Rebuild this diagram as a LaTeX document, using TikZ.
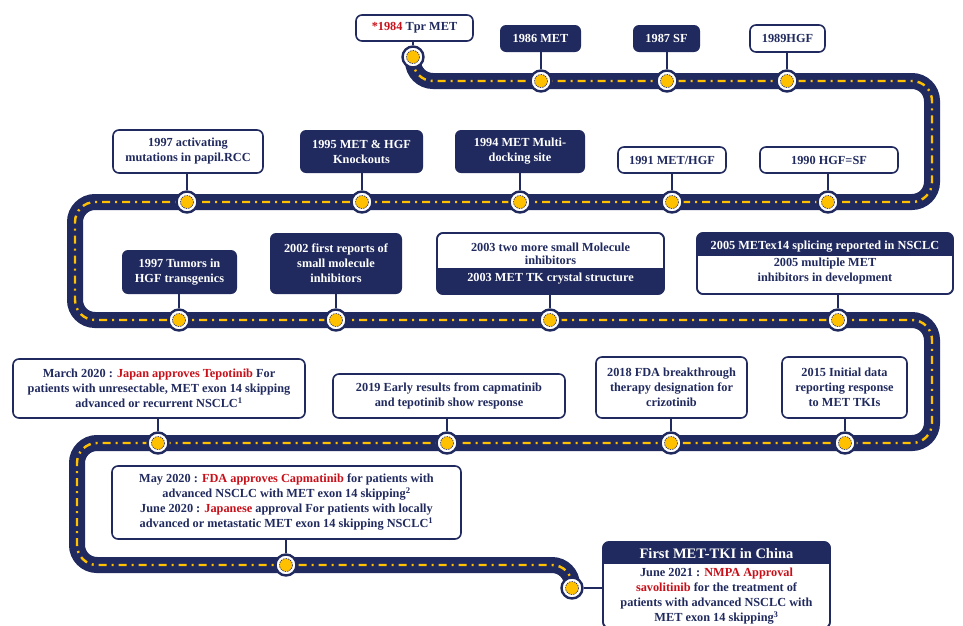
\documentclass[tikz,border=0pt]{standalone}
\usepackage{fontspec}
\setmainfont{Liberation Serif}
\definecolor{navy}{RGB}{32,42,94}
\definecolor{roadyellow}{RGB}{255,192,0}
\definecolor{hired}{RGB}{200,16,26}
\begin{document}
\begin{tikzpicture}[x=1pt,y=-1pt,
  font=\fontsize{12.3}{15}\selectfont\bfseries,
  wbox/.style={draw=navy, line width=1.6pt, fill=white, rounded corners=6pt, align=center, text=navy, inner sep=2pt, outer sep=0pt},
  nbox/.style={fill=navy, rounded corners=6pt, align=center, text=white, inner sep=2pt, outer sep=0pt},
  btext/.style={align=center, inner sep=0pt},
  milestone/.style={circle, fill=white, draw=navy, line width=2.4pt, minimum size=21pt, inner sep=0pt,
    path picture={\fill[roadyellow] (path picture bounding box.center) circle (6.5);
                  \draw[navy, line width=0.6pt, dash pattern=on 1.5pt off 1pt] (path picture bounding box.center) circle (6.5);}},
  link/.style={draw=navy, line width=1.5pt},
  road/.style={draw=navy, line width=16pt, rounded corners=20pt},
  lane/.style={draw=roadyellow, line width=2.4pt, dash pattern=on 8pt off 5pt on 2pt off 5pt, rounded corners=20pt}]
\useasboundingbox (0,0) rectangle (963,625);

% road
\draw[road] (413,57) -- (413,81) -- (932,81) -- (932,202) -- (75,202) -- (75,320) -- (932,320) -- (932,443) -- (77,443) -- (77,565) -- (572,565) -- (572,588);
\draw[lane] (413,57) -- (413,81) -- (932,81) -- (932,202) -- (75,202) -- (75,320) -- (932,320) -- (932,443) -- (77,443) -- (77,565) -- (572,565) -- (572,588);

% milestones
\node[milestone] (c1984) at (413,57) {};
\node[milestone] (c1986) at (541,81) {};
\node[milestone] (c1987) at (667,81) {};
\node[milestone] (c1989) at (787,81) {};
\node[milestone] (c1997a) at (187,202) {};
\node[milestone] (c1995) at (362,202) {};
\node[milestone] (c1994) at (520,202) {};
\node[milestone] (c1991) at (672,202) {};
\node[milestone] (c1990) at (828,202) {};
\node[milestone] (c1997t) at (179,320) {};
\node[milestone] (c2002) at (336,320) {};
\node[milestone] (c2003) at (550,320) {};
\node[milestone] (c2005) at (838,320) {};
\node[milestone] (cMar) at (158,443) {};
\node[milestone] (c2019) at (447,443) {};
\node[milestone] (c2018) at (671,443) {};
\node[milestone] (c2015) at (845,443) {};
\node[milestone] (cMay) at (286,565) {};
\node[milestone] (cChina) at (572,588) {};

% boxes
\node[wbox, minimum width=117pt, minimum height=26pt] (b1984) at (414.5,28) {\textcolor{hired}{*1984} Tpr MET};
\node[nbox, minimum width=81pt, minimum height=27pt] (b1986) at (540.5,38.5) {1986 MET};
\node[nbox, minimum width=67pt, minimum height=27pt] (b1987) at (666.5,38.5) {1987 SF};
\node[wbox, minimum width=75pt, minimum height=27pt] (b1989) at (787.5,38.5) {1989HGF};

\node[wbox, minimum width=150pt, minimum height=43pt] (b1997a) at (188,151.5) {1997 activating\\mutations in papil.RCC};
\node[nbox, minimum width=123pt, minimum height=43pt] (b1995) at (361.5,151.5) {1995 MET \& HGF\\Knockouts};
\node[nbox, minimum width=130pt, minimum height=43pt] (b1994) at (520,151.5) {1994 MET Multi-\\docking site};
\node[wbox, minimum width=108pt, minimum height=26pt] (b1991) at (672,160) {1991 MET/HGF};
\node[wbox, minimum width=138pt, minimum height=26pt] (b1990) at (829,160) {1990 HGF=SF};

\node[nbox, minimum width=115pt, minimum height=44pt] (b1997t) at (179.5,272) {1997 Tumors in\\HGF transgenics};
\node[nbox, minimum width=132pt, minimum height=61pt] (b2002) at (336,263.5) {2002 first reports of\\small molecule\\inhibitors};

\node[wbox, minimum width=227pt, minimum height=61pt] (b2003) at (550.5,263.5) {};
\begin{scope}
  \clip[rounded corners=6pt] (b2003.south west) rectangle (b2003.north east);
  \fill[navy] (437,268) rectangle (664,300);
\end{scope}
\draw[navy, line width=1.6pt, rounded corners=6pt] (b2003.south west) rectangle (b2003.north east);
\node[btext, text=navy, font=\fontsize{12.3}{13}\selectfont\bfseries] (t2003a) at (550.5,253.5) {2003 two more small Molecule\\inhibitors};
\node[btext, text=white] (t2003b) at (550.5,279) {2003 MET TK crystal structure};

\node[wbox, minimum width=256pt, minimum height=61pt] (b2005) at (825,263.5) {};
\begin{scope}
  \clip[rounded corners=6pt] (b2005.south west) rectangle (b2005.north east);
  \fill[navy] (690,228) rectangle (960,256);
\end{scope}
\draw[navy, line width=1.6pt, rounded corners=6pt] (b2005.south west) rectangle (b2005.north east);
\node[btext, text=white] (t2005a) at (825,247) {2005 METex14 splicing reported in NSCLC};
\node[btext, text=navy] (t2005b) at (825,271) {2005 multiple MET\\inhibitors in development};

\node[wbox, minimum width=292pt, minimum height=59pt] (bMar) at (159,388.5) {March 2020 : \textcolor{hired}{Japan approves Tepotinib} For\\patients with unresectable, MET exon 14 skipping\\advanced or recurrent NSCLC\textsuperscript{1}};
\node[wbox, minimum width=232pt, minimum height=44pt] (b2019) at (449,396) {2019 Early results from capmatinib\\and tepotinib show response};
\node[wbox, minimum width=151pt, minimum height=61pt] (b2018) at (671.5,387.5) {2018 FDA breakthrough\\therapy designation for\\crizotinib};
\node[wbox, minimum width=125pt, minimum height=61pt] (b2015) at (844.5,387.5) {2015 Initial data\\reporting response\\to MET TKIs};

\node[wbox, minimum width=349pt, minimum height=73pt] (bMay) at (286.5,502.5) {May 2020 : \textcolor{hired}{FDA approves Capmatinib} for patients with\\advanced NSCLC with MET exon 14 skipping\textsuperscript{2}\\June 2020 : \textcolor{hired}{Japanese} approval For patients with locally\\advanced or metastatic MET exon 14 skipping NSCLC\textsuperscript{1}};

\node[wbox, minimum width=227pt, minimum height=86pt] (bChina) at (716.5,585) {};
\begin{scope}
  \clip[rounded corners=6pt] (bChina.south west) rectangle (bChina.north east);
  \fill[navy] (600,538) rectangle (835,564);
\end{scope}
\draw[navy, line width=1.6pt, rounded corners=6pt] (bChina.south west) rectangle (bChina.north east);
\node[btext, text=white, font=\fontsize{14.5}{16}\selectfont\bfseries] (tChinaA) at (716.5,554) {First MET-TKI in China};
\node[btext, text=navy] (tChinaB) at (716.5,596.5) {June 2021 : \textcolor{hired}{NMPA Approval}\\\textcolor{hired}{savolitinib} for the treatment of\\patients with advanced NSCLC with\\MET exon 14 skipping\textsuperscript{3}};

% links
\foreach \b/\c in {b1984/c1984, b1986/c1986, b1987/c1987, b1989/c1989,
  b1997a/c1997a, b1995/c1995, b1994/c1994, b1991/c1991, b1990/c1990,
  b1997t/c1997t, b2002/c2002, b2003/c2003, b2005/c2005,
  bMar/cMar, b2019/c2019, b2018/c2018, b2015/c2015, bMay/cMay}
  \draw[link] (\b.south -| \c.north) -- (\c.north);
\draw[link] (cChina.east) -- (cChina.east -| bChina.west);
\end{tikzpicture}
\end{document}
